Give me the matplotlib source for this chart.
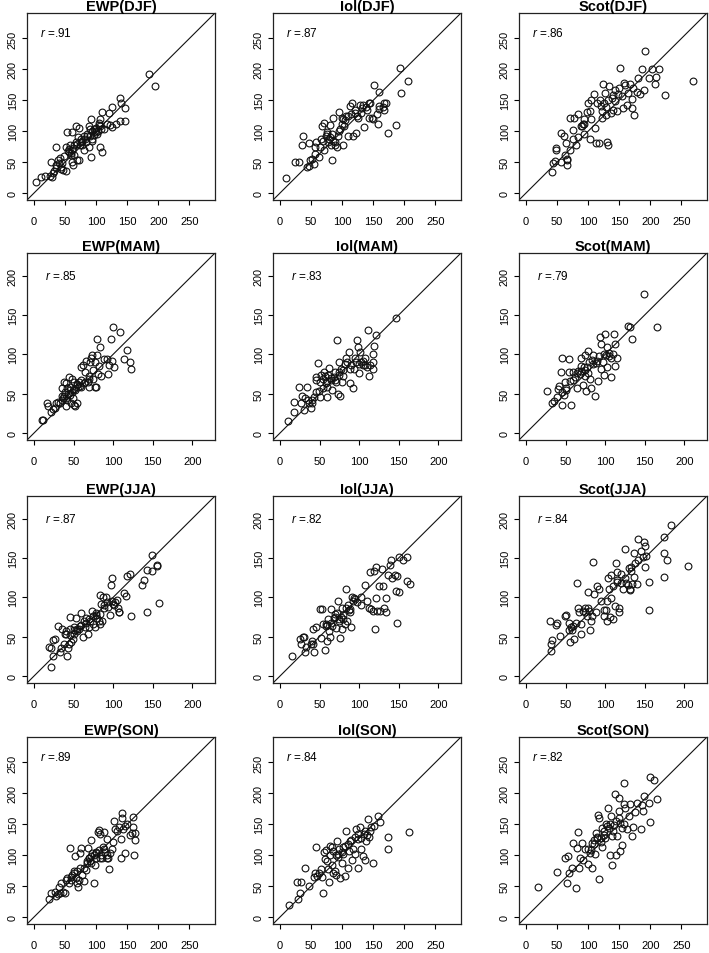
import numpy as np
import matplotlib.pyplot as plt

plt.rcParams['font.family'] = ['Liberation Sans', 'DejaVu Sans']
plt.rcParams['mathtext.fontset'] = 'custom'
plt.rcParams['mathtext.it'] = 'Liberation Sans:italic'
plt.rcParams['mathtext.rm'] = 'Liberation Sans'

regions = ['EWP', 'Iol', 'Scot']
seasons = ['DJF', 'MAM', 'JJA', 'SON']
r_values = [['.91', '.87', '.86'],
            ['.85', '.83', '.79'],
            ['.87', '.82', '.84'],
            ['.89', '.84', '.82']]
season_max = [280, 220, 220, 280]

# (x, y) pairs
ewp_djf = [(4,18),(12,26),(18,27),(25,27),(29,26),(27,51),(30,33),(35,46),(36,75),(38,53),
           (42,56),(43,42),(44,39),(47,38),(52,36),(48,60),(52,74),(53,99),(56,66),(58,77),
           (59,61),(61,69),(61,50),(63,45),(61,99),(64,77),(65,61),(67,82),(68,108),(69,53),
           (72,53),(73,106),(71,90),(75,87),(76,82),(78,77),(80,69),(83,82),(85,95),(88,109),
           (90,104),(91,58),(92,120),(94,87),(96,94),(98,101),(100,98),(103,101),(104,114),(106,119),
           (107,109),(107,75),(109,131),(110,66),(112,104),(118,112),(121,129),(123,110),(126,107),(126,139),
           (132,112),(138,117),(138,153),(140,145),(146,138),(147,117),(185,192),(194,173),
           (55,68),(57,72),(60,64),(62,73),(70,80),(74,78),(77,84),(80,92),(82,88),(86,92),
           (90,92),(94,100),(97,104),(100,106),(102,96),(105,110),(108,103),(93,85),(88,74),
           (40,48),(45,48),(33,35),(36,40)]
iol_djf = [(10,24),(24,51),(30,51),(35,78),(37,92),(43,42),(46,43),(46,81),(48,53),(52,55),
           (55,47),(56,63),(57,74),(58,82),(62,58),(66,87),(67,109),(71,113),(71,70),(74,93),
           (76,98),(77,82),(79,87),(81,110),(83,53),(82,77),(85,122),(86,85),(89,77),(91,74),
           (93,93),(95,131),(97,104),(99,122),(100,112),(101,120),(102,77),(103,109),(106,125),(109,93),
           (113,141),(116,145),(118,93),(120,135),(122,97),(124,125),(128,142),(130,130),(134,142),(135,107),
           (138,139),(143,146),(144,122),(145,145),(148,121),(152,175),(156,128),(157,111),(160,164),(160,141),
           (167,134),(168,146),(171,146),(174,97),(186,110),(193,203),(195,162),(206,182),
           (80,90),(84,96),(88,82),(95,100),(105,118),(110,124),(115,128),(120,130),(125,122),
           (132,138),(140,135),(150,120),(160,136),(165,140),(70,85),(75,95),(65,75)]
scot_djf = [(42,34),(43,48),(47,52),(49,70),(49,73),(57,50),(57,97),(61,93),(63,61),(65,81),
            (66,55),(66,45),(66,53),(71,70),(71,122),(75,88),(76,102),(78,122),(80,77),(83,90),
            (84,128),(90,109),(91,112),(93,120),(94,95),(98,131),(99,146),(103,87),(103,133),(104,120),
            (105,151),(110,161),(111,106),(113,81),(115,146),(118,81),(119,151),(121,141),(122,133),(123,122),
            (124,176),(127,162),(129,127),(131,83),(132,77),(134,173),(136,130),(138,154),(140,135),(143,149),
            (144,167),(146,132),(152,202),(154,157),(156,138),(158,178),(162,143),(164,162),(167,176),(170,152),
            (172,170),(174,126),(171,138),(178,164),(181,186),(183,160),(186,200),(190,167),(191,229),(198,186),
            (203,200),(208,176),(209,188),(214,200),(224,158),(268,181),
            (128,140),(125,145),(132,150),(140,158),(148,160),(150,170),(160,175),(93,112),(88,108)]

ewp_mam = [(10,16),(12,16),(16,38),(18,35),(21,27),(24,31),(26,32),(28,38),(30,40),(33,38),
           (35,47),(36,57),(37,44),(38,65),(39,52),(40,34),(41,63),(42,42),(43,50),(44,71),
           (45,55),(46,59),(47,38),(48,69),(49,44),(50,65),(51,36),(52,35),(54,61),(55,38),
           (56,59),(57,65),(59,84),(60,59),(62,87),(64,78),(65,65),(66,92),(68,65),(69,69),
           (70,59),(71,90),(73,99),(75,69),(77,90),(77,59),(79,59),(80,120),(80,99),(81,75),
           (82,85),(84,109),(85,73),(88,94),(92,94),(94,75),(95,87),(97,120),(99,92),(100,135),
           (101,84),(109,129),(114,94),(117,106),(121,90),(123,81),
           (45,48),(48,52),(52,55),(55,62),(58,60),(38,47),(40,45),(35,42),(42,57),(60,68),
           (63,64),(70,72),(75,80),(72,96),(50,56)]
iol_mam = [(10,15),(18,27),(18,40),(24,59),(26,38),(28,47),(30,29),(32,44),(34,59),(35,42),
           (37,38),(39,32),(40,42),(41,38),(43,46),(45,67),(45,52),(46,71),(48,89),(49,53),
           (50,46),(51,65),(52,74),(54,57),(55,69),(56,77),(58,63),(59,46),(60,59),(61,74),
           (62,83),(64,68),(66,55),(68,71),(69,77),(71,65),(72,118),(73,50),(74,74),(75,90),
           (76,47),(77,82),(78,65),(80,80),(82,88),(84,95),(87,103),(88,63),(89,82),(92,57),
           (94,82),(96,90),(97,118),(99,109),(100,76),(101,103),(103,90),(105,86),(107,95),(110,84),
           (111,131),(112,73),(114,86),(117,101),(118,90),(118,81),(119,111),(122,124),(147,146),
           (65,70),(70,68),(75,78),(80,72),(85,90),(90,86),(95,95),(100,88),(60,66),(57,72),
           (105,92),(108,86)]
scot_mam = [(26,54),(33,38),(36,41),(39,46),(40,56),(42,60),(44,77),(45,36),(45,96),(46,52),
            (48,48),(49,65),(51,57),(54,78),(54,94),(56,66),(57,36),(60,77),(62,71),(65,57),
            (66,79),(68,75),(69,96),(70,79),(72,61),(73,84),(74,99),(74,73),(76,54),(77,84),
            (79,104),(81,69),(82,57),(83,93),(85,99),(87,47),(89,89),(91,66),(92,98),(94,122),
            (95,113),(95,82),(97,90),(98,74),(100,126),(101,99),(102,84),(103,110),(105,102),(107,71),
            (108,96),(111,126),(113,85),(113,113),(115,96),(129,136),(132,135),(134,119),(149,177),(165,135),
            (75,80),(78,76),(80,90),(85,88),(70,85),(65,76),(90,92),(98,100),(105,98),(110,100),
            (60,68),(50,55)]

ewp_jja = [(21,11),(19,37),(22,36),(24,25),(24,46),(26,47),(31,64),(33,30),(34,36),(36,60),
           (38,41),(39,54),(40,57),(41,53),(42,25),(43,36),(44,41),(46,75),(46,60),(47,43),
           (49,47),(50,53),(51,62),(53,74),(54,60),(55,57),(58,64),(60,80),(62,50),(63,70),
           (64,62),(66,74),(68,54),(69,62),(71,70),(73,83),(74,66),(77,62),(78,78),(79,80),
           (82,70),(83,79),(84,103),(84,66),(85,91),(86,70),(87,101),(89,87),(91,101),(94,88),
           (96,78),(97,116),(98,125),(100,92),(101,90),(103,94),(105,97),(106,87),(107,81),(108,82),
           (114,106),(116,102),(117,127),(121,130),(123,76),(136,116),(139,122),(143,82),(143,135),(149,133),
           (149,154),(155,141),(156,140),(158,93),
           (60,65),(66,68),(70,72),(75,76),(80,74),(88,90),(92,94),(99,95),(50,58),(45,52),(57,60)]
iol_jja = [(15,25),(25,47),(27,41),(29,50),(31,50),(32,31),(33,37),(39,41),(41,45),(42,60),
           (42,41),(43,31),(45,62),(50,85),(52,49),(53,85),(55,66),(57,33),(58,63),(59,45),
           (61,72),(62,57),(63,50),(64,85),(66,63),(68,74),(69,79),(71,61),(73,95),(74,70),
           (75,72),(76,49),(77,75),(78,60),(80,78),(82,66),(83,87),(84,111),(85,70),(87,84),
           (88,81),(90,62),(91,101),(92,96),(94,99),(97,94),(103,101),(103,90),(108,116),(110,96),
           (112,87),(114,132),(115,85),(117,83),(119,134),(120,60),(121,99),(122,139),(123,83),(125,114),
           (127,83),(129,136),(130,115),(132,86),(134,99),(134,81),(136,128),(139,141),(140,148),(141,124),
           (145,129),(147,108),(148,67),(148,127),(150,151),(151,107),(155,147),(160,121),(161,151),(164,117),
           (70,75),(72,80),(78,86),(80,72),(86,90),(88,85),(95,98),(60,65),(65,68),(58,66)]
scot_jja = [(32,32),(32,41),(33,46),(31,70),(39,68),(38,65),(43,51),(49,76),(51,77),(54,67),
            (54,58),(56,43),(57,62),(58,58),(59,63),(61,47),(63,67),(65,118),(66,87),(67,81),
            (69,66),(70,54),(72,83),(74,87),(75,81),(77,76),(78,87),(79,107),(80,83),(81,58),
            (82,70),(83,76),(85,145),(86,104),(89,81),(90,114),(92,111),(95,96),(98,76),(99,84),
            (101,84),(102,70),(103,96),(104,124),(105,111),(106,75),(107,99),(108,128),(110,73),(112,89),
            (114,144),(115,120),(115,132),(117,87),(118,81),(120,130),(123,111),(125,161),(127,118),(129,116),
            (131,111),(132,110),(133,134),(134,117),(136,156),(136,126),(138,144),(140,117),(141,147),(142,174),
            (146,159),(148,151),(149,170),(150,165),(150,138),(152,153),(155,119),(156,84),(175,177),(175,156),
            (175,126),(178,147),(183,192),(205,140),
            (110,115),(115,122),(120,118),(125,125),(130,137),(133,138)]

ewp_son = [(24,29),(28,39),(34,41),(36,34),(38,37),(40,49),(42,39),(44,55),(46,41),(50,39),
           (51,60),(53,63),(56,55),(58,112),(59,60),(61,68),(64,74),(66,99),(68,63),(69,55),
           (71,48),(73,60),(74,79),(74,103),(76,111),(77,68),(80,58),(83,76),(85,87),(87,111),
           (89,95),(90,90),(92,124),(92,87),(94,103),(96,55),(98,84),(99,103),(100,95),(103,138),
           (105,141),(106,135),(107,95),(109,96),(111,114),(112,138),(115,106),(117,96),(118,127),(119,95),
           (120,77),(123,103),(127,122),(128,155),(131,143),(134,140),(137,146),(140,96),(140,127),(142,169),
           (142,160),(144,143),(146,103),(147,148),(150,150),(155,133),(158,136),(159,146),(160,162),(161,101),
           (163,124),(163,136),
           (80,80),(85,90),(88,95),(92,98),(96,100),(100,105),(104,108),(108,100),(60,65),(65,72),
           (70,75),(112,110),(118,100),(125,110)]
iol_son = [(15,20),(27,56),(29,29),(34,56),(33,39),(41,79),(47,51),(54,65),(57,71),(58,113),
           (60,66),(63,72),(66,78),(68,65),(70,39),(71,105),(73,94),(74,109),(77,78),(79,57),
           (81,115),(83,113),(84,84),(85,72),(86,107),(88,75),(90,68),(92,123),(93,97),(94,102),
           (97,63),(99,87),(101,113),(102,102),(104,66),(106,139),(109,79),(111,107),(113,123),(116,92),
           (118,110),(121,102),(122,142),(125,126),(126,79),(129,145),(130,110),(133,99),(136,139),(137,92),
           (139,123),(142,159),(144,129),(146,145),(149,87),(152,147),(158,163),(161,154),(173,129),(173,110),
           (207,138),
           (90,100),(95,110),(100,105),(105,115),(110,118),(115,125),(120,130),(125,135),(130,128),
           (135,135),(140,132),(145,140),(80,100),(75,90)]
scot_son = [(19,48),(50,73),(63,95),(66,55),(67,99),(70,71),(74,79),(76,119),(81,47),(82,112),
            (84,137),(86,79),(87,95),(90,120),(92,93),(95,110),(99,86),(103,104),(106,120),(107,79),
            (110,118),(111,102),(112,136),(114,128),(116,165),(117,161),(118,61),(120,122),(122,144),(123,113),
            (125,133),(127,128),(130,148),(132,176),(133,144),(135,101),(137,163),(138,131),(139,84),(142,149),
            (143,199),(145,101),(146,131),(149,171),(150,193),(151,107),(152,152),(154,117),(155,144),(157,217),
            (157,183),(158,150),(160,176),(162,143),(165,163),(167,183),(170,131),(172,146),(175,170),(179,185),
            (185,142),(187,181),(189,171),(190,196),(198,185),(200,153),(200,226),(206,221),(210,191),
            (110,125),(115,130),(120,128),(125,140),(128,150),(135,150),(140,140),(145,155),(150,160),
            (100,110),(105,108)]

panels = [[ewp_djf, iol_djf, scot_djf],
          [ewp_mam, iol_mam, scot_mam],
          [ewp_jja, iol_jja, scot_jja],
          [ewp_son, iol_son, scot_son]]

W, H = 709, 954
col_left = [27, 273, 519]
row_top = [14, 254, 497, 738]
aw, ah = 188, 187

fig = plt.figure(figsize=(W/100, H/100), dpi=100)

for i, season in enumerate(seasons):
    hi = season_max[i]
    pad = 0.04*hi
    lo_l, hi_l = -pad, hi + pad
    for j, reg in enumerate(regions):
        ax = fig.add_axes([col_left[j]/W, 1 - (row_top[i] + ah)/H, aw/W, ah/H])
        pts = np.array(panels[i][j])
        ax.plot(pts[:, 0], pts[:, 1], 'o', mfc='none', mec='#111111', ms=4.9, mew=0.8)
        ax.plot([lo_l, hi_l], [lo_l, hi_l], color='#111111', lw=0.8)
        ax.set_xlim(lo_l, hi_l)
        ax.set_ylim(lo_l, hi_l)
        ticks = np.arange(0, hi, 50)
        ax.set_xticks(ticks)
        ax.set_yticks(ticks)
        ax.tick_params(axis='x', length=3.6, width=0.8, pad=8, labelsize=8)
        ax.tick_params(axis='y', length=3.6, width=0.8, pad=3, labelsize=7.8)
        for lab in ax.get_yticklabels():
            lab.set_rotation(90)
            lab.set_va('center')
        for s in ax.spines.values():
            s.set_linewidth(0.9)
            s.set_color('#222222')
        ax.set_title(f'{reg}({season})', fontsize=10.5, fontweight='bold', pad=1.5)
        tx = 9 if hi == 280 else 14
        ty = 260 if hi == 280 else 200
        ax.text(tx, ty, r'$\mathit{r}$ =' + r_values[i][j], fontsize=8.5, ha='left', va='center')

plt.savefig('out.png', dpi=100)
